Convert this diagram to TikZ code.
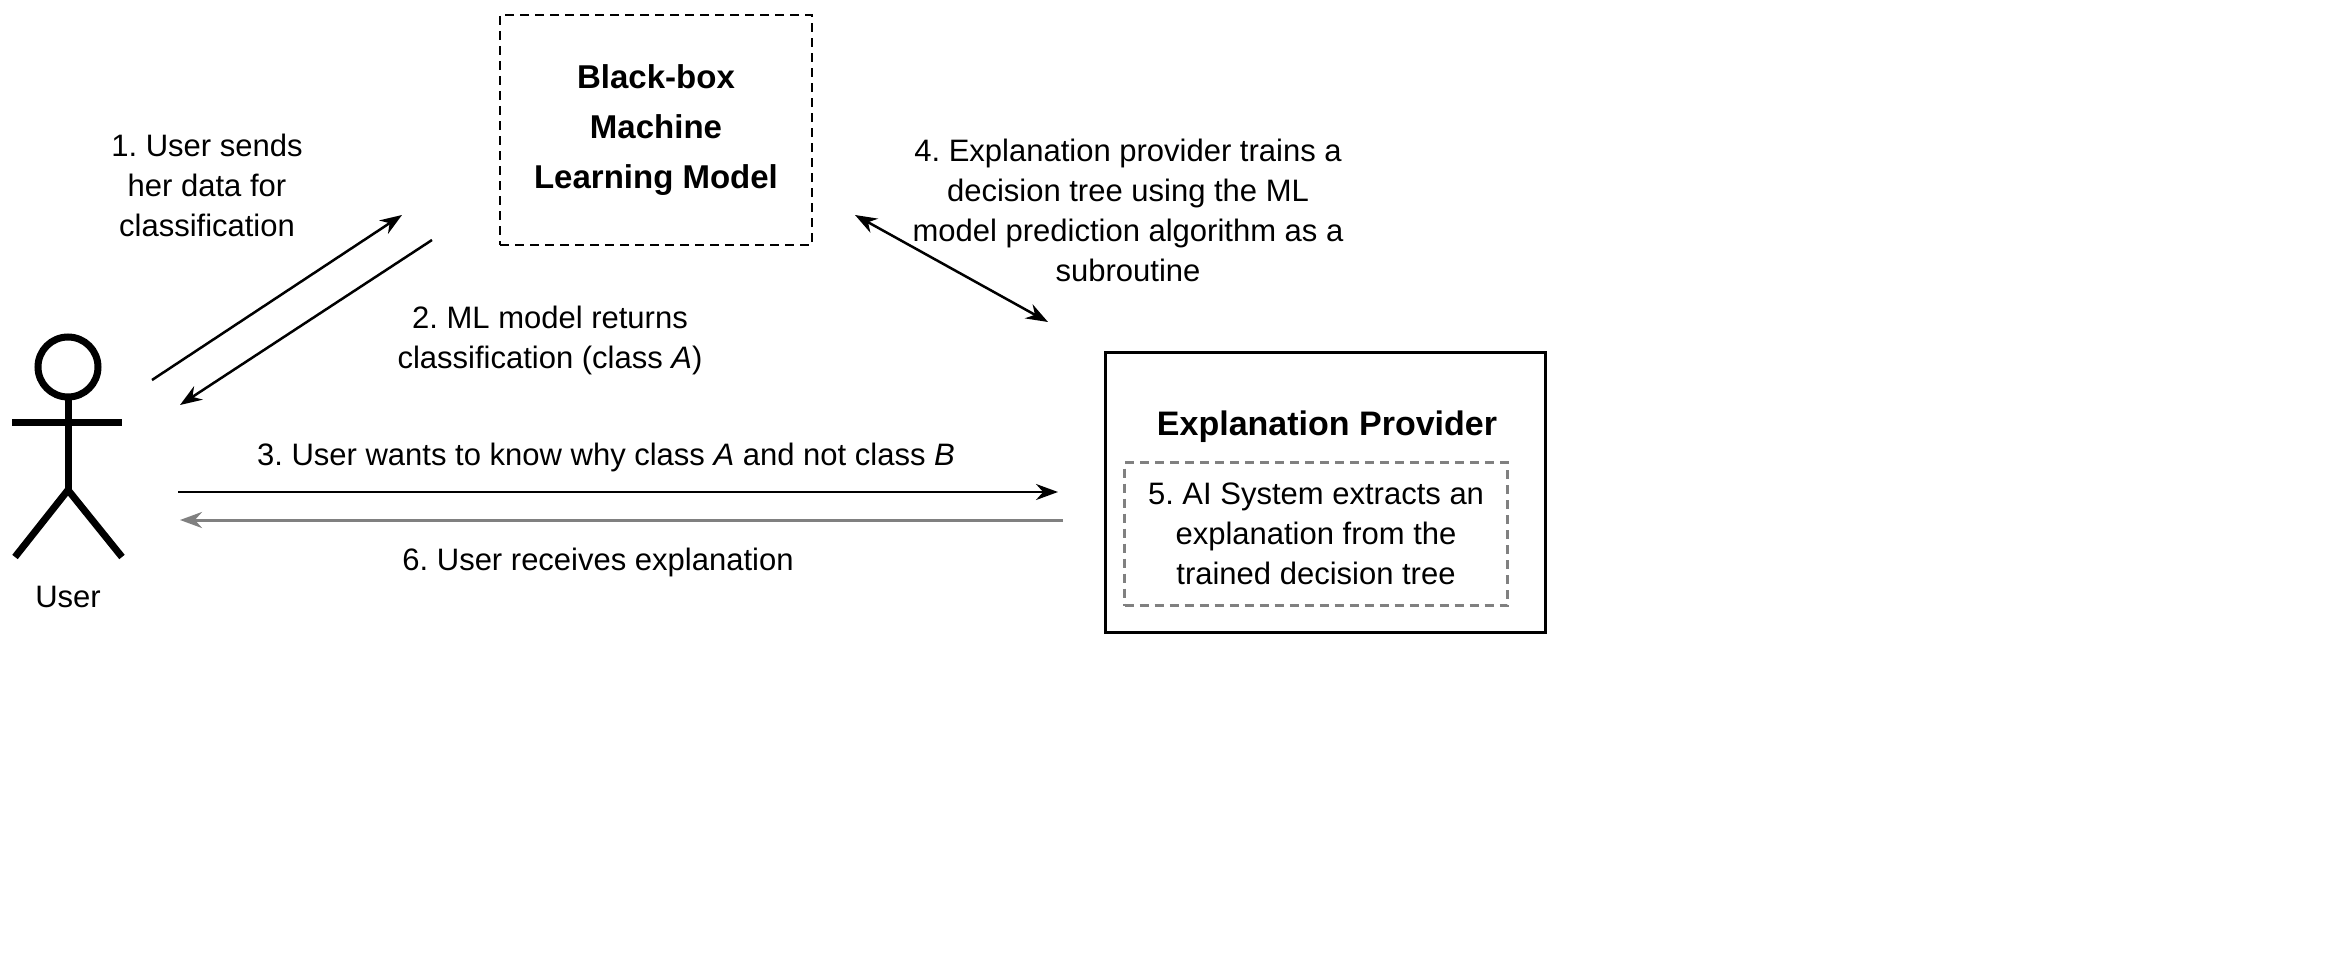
\documentclass[tikz,border=0pt]{standalone}
\usepackage{fontspec}
\setmainfont{Liberation Sans}
\usetikzlibrary{arrows.meta}
\begin{document}
\frenchspacing
\begin{tikzpicture}[x=1pt,y=-1pt,
  lbl/.style={align=center,font=\fontsize{31}{40}\selectfont},
  arr/.style={line width=2.5pt,-{Stealth[length=22pt,width=16pt]}},
  fig/.style={line width=7pt}]
\useasboundingbox (0,0) rectangle (2330,958);
\fill[white] (0,0) rectangle (2330,958);
% black box
\node[draw,dash pattern=on 9pt off 6pt,line width=2.5pt,minimum width=312pt,minimum height=230pt,align=center,
  font=\bfseries\fontsize{33}{50}\selectfont] (bb) at (656,130) {Black-box\\Machine\\Learning Model};
% explanation provider
\node[draw,line width=3pt,minimum width=440pt,minimum height=280pt] (ep) at (1325,492) {};
\node[font=\bfseries\fontsize{34}{40}\selectfont] (ept) at (1327,427) {Explanation Provider};
\node[draw,dash pattern=on 9pt off 6pt,gray,line width=3pt,minimum width=383pt,minimum height=143pt,
  text=black,lbl] (ai) at (1316,534) {5. AI System extracts an\\explanation from the\\trained decision tree};
% user
\coordinate (head) at (68,367);
\draw[fig] (head) circle (30pt);
\draw[fig] (68,397) -- (68,490) coordinate (hip);
\draw[fig] (12,422) -- (122,422);
\draw[fig] (15,557) -- (hip) -- (122,557);
\node[lbl] (user) at (68,597) {User};
% connectors
\coordinate (a1s) at (152,380); \coordinate (a1e) at (402,215);
\coordinate (a2s) at (432,240); \coordinate (a2e) at (180,405);
\coordinate (a4s) at (855,215); \coordinate (a4e) at (1048,322);
\coordinate (a3s) at (178,492); \coordinate (a3e) at (1058,492);
\coordinate (a6s) at (1063,520); \coordinate (a6e) at (180,520);
\draw[arr] (a1s) -- (a1e);
\draw[arr] (a2s) -- (a2e);
\draw[arr,{Stealth[length=22pt,width=16pt]}-{Stealth[length=22pt,width=16pt]}] (a4s) -- (a4e);
\draw[arr] (a3s) -- (a3e);
\draw[arr,gray,line width=3pt] (a6s) -- (a6e);
% labels
\node[lbl] (l1) at (207,185) {1. User sends\\her data for\\classification};
\node[lbl] (l2) at (550,340) {2. ML model returns\\classification (class \textit{A})};
\node[lbl] (l4) at (1128,210) {4. Explanation provider trains a\\decision tree using the ML\\model prediction algorithm as a\\subroutine};
\node[lbl] (l3) at (606,457) {3. User wants to know why class \textit{A} and not class \textit{B}};
\node[lbl] (l6) at (598,562) {6. User receives explanation};
\end{tikzpicture}
\end{document}
